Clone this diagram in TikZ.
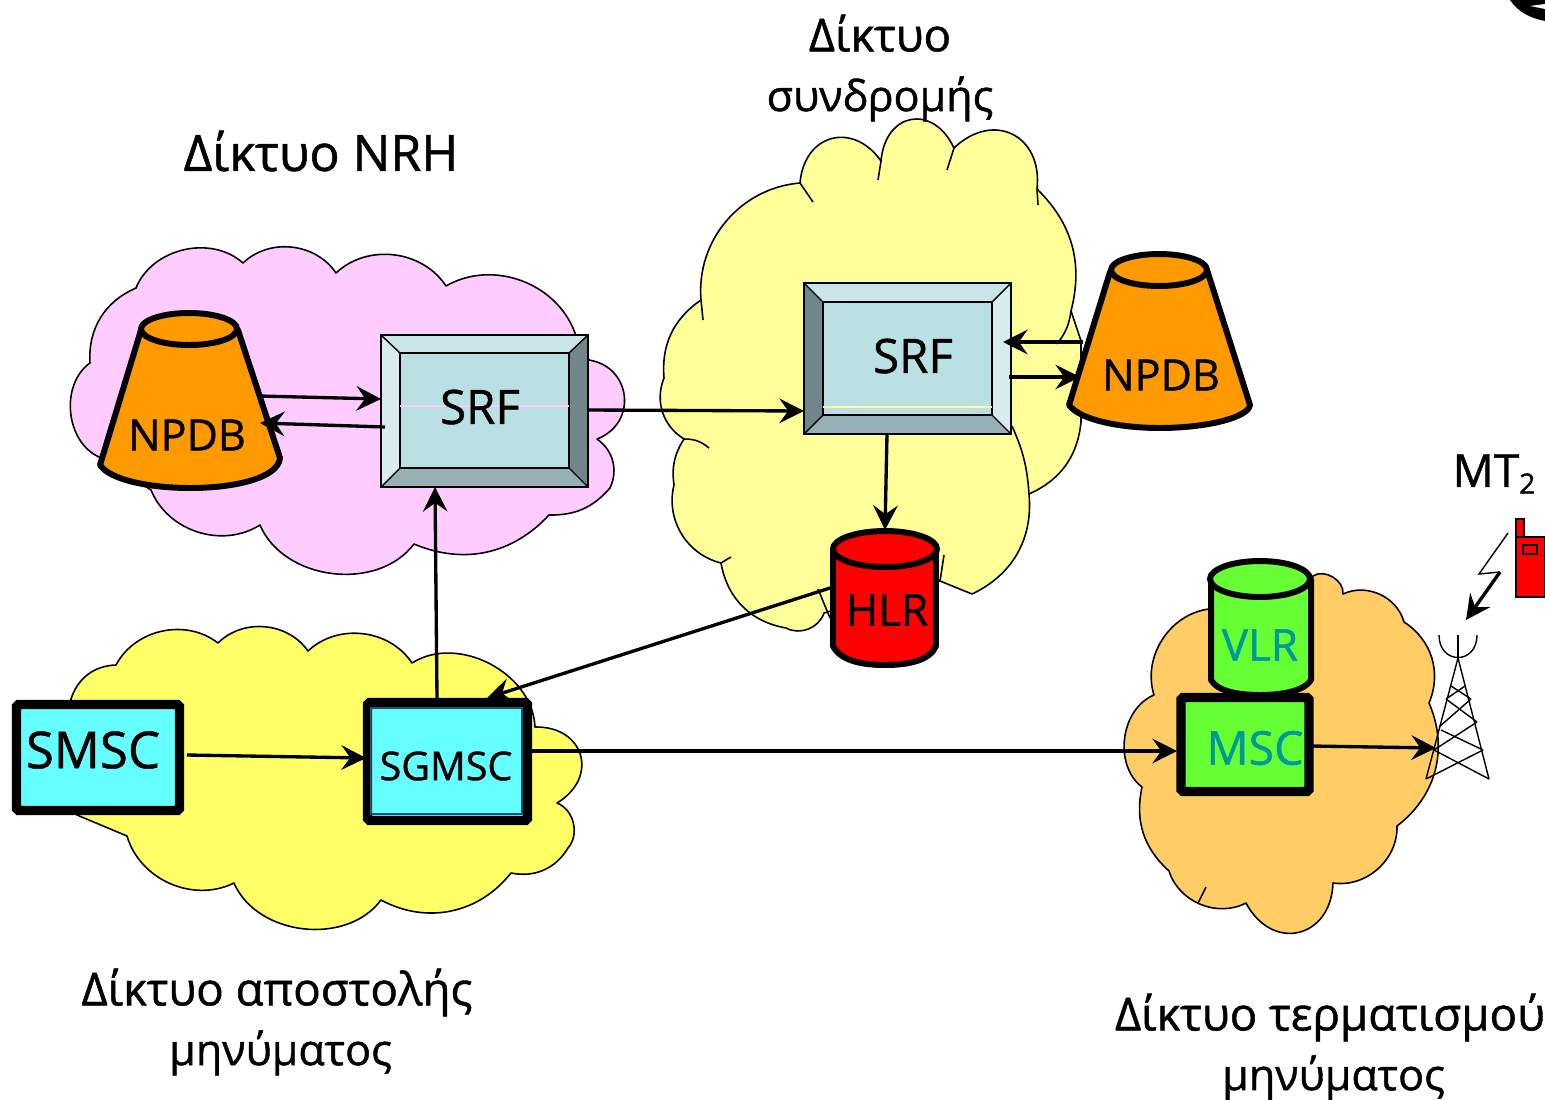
\documentclass[tikz,border=0pt]{standalone}
\usepackage{fontspec}
\setmainfont{Open Sans}
\newfontfamily\handfont{Open Sans}[AutoFakeBold=1.0]
\usepackage{xcolor}
\usetikzlibrary{arrows.meta, calc}

\definecolor{pinkcloud}{HTML}{FFCCFF}
\definecolor{palecloud}{HTML}{FFFF99}
\definecolor{sendcloud}{HTML}{FFFF66}
\definecolor{termcloud}{HTML}{FFCC66}
\definecolor{npdbfill}{HTML}{FF9900}
\definecolor{boxcyan}{HTML}{66FFFF}
\definecolor{msgreen}{HTML}{66FF33}
\definecolor{msctext}{HTML}{009999}
\definecolor{sgmscedge}{HTML}{1F4E79}
\definecolor{srfmid}{HTML}{BAE0E3}
\definecolor{srftop}{HTML}{C9E5E8}
\definecolor{srflight}{HTML}{D8ECEF}
\definecolor{srfdark}{HTML}{70868A}
\definecolor{srfbottom}{HTML}{96B0B5}

\tikzset{
  cloud/.style={draw=black, line width=0.9pt, line join=round},
  bump/.style={bend left=#1},
  bump/.default=50,
  rump/.style={bend right=#1},
  rump/.default=50,
  netlabel/.style={font=\handfont\bfseries\fontsize{26}{34}\selectfont, align=center, inner sep=0pt},
  boxlabel/.style={font=\handfont\bfseries\fontsize{#1}{#1}\selectfont, inner sep=0pt},
  thickbox/.style={draw=black, line width=5.2pt, rounded corners=1pt, inner sep=0pt},
  solid3d/.style={draw=black, line width=3.4pt, line join=round},
  arr/.style={-{Stealth[length=14pt,width=14pt,inset=5pt]}, line width=1.9pt},
}

\begin{document}
\begin{tikzpicture}[x=0.02cm, y=-0.02cm]
    \useasboundingbox (0,0) rectangle (1545,1099);

    % clouds
    \draw[cloud, fill=pinkcloud] (243,263) to[bump] (336,273) to[bump] (446,286) to[bump] (575,333)
      -- (589,360) to[bump=75, looseness=1.4] (597,439) to[bump=40] (610,488) to[bump=25] (549,515) to[bump=35] (414,544)
      to[bump=60] (260,525) to[bump=50] (151,490) -- (99,457) to[bump=60] (90,363) to[bump=35] (136,288)
      to[bump=55] cycle;
    \draw[cloud, fill=sendcloud] (116,665) to[bump=50] (218,643) to[bump=50] (308,651) to[bump=50] (412,663)
      to[bump=60] (535,727) to[bump=75, looseness=1.6] (557,803) to[bump=55] (568,848) to[bump=35] (511,873)
      to[bump=40] (381,900) to[bump=60] (234,883) to[bump=50] (127,836) -- (77,815) -- (71,699)
      to[bump=35] cycle;
    \draw[cloud, fill=palecloud] (701,300) to[bump=45] (800,183) to[bump=70, looseness=1.5] (881,161)
      to[bump=75, looseness=1.7] (954,148) to[bump=70, looseness=1.5] (1037,189) to[bump=30] (1071,311)
      -- (1081,341) -- (1081,422) to[bump=30] (1029,494) to[bump=35] (972,594) -- (940,581) -- (824,613)
      to[bump=50] (786,628) to[bump=35] (721,563) to[bump=45] (674,485) to[bump=20] (684,439)
      to[bump=40] (664,378) to[bump=30] cycle;
    \draw[cloud, fill=termcloud] (1209,609) to[rump=50] (1154,695) to[rump=60] (1142,787) to[rump=30] (1169,871)
      to[rump=50] (1246,903) to[rump=75, looseness=1.6] (1333,883) to[rump=50] (1397,826) to[rump=38] (1429,703)
      to[rump=40] (1404,622) to[rump=50] (1343,594) to[rump=65] (1313,576) -- cycle;

    % cloud seams
    \draw[cloud] (701,300) -- (703,320);
    \draw[cloud] (800,183) -- (813,202);
    \draw[cloud] (881,161) -- (878,180);
    \draw[cloud] (954,148) -- (947,170);
    \draw[cloud] (1037,189) -- (1038,205);
    \draw[cloud] (1071,311) to[bump=15] (1057,344);
    \draw[cloud] (684,439) to[bump=20] (709,448);
    \draw[cloud] (1012,426) to[bump=10] (1029,494);
    \draw[cloud] (721,563) -- (731,557);
    \draw[cloud] (818,589) -- (830,618);
    \draw[cloud] (944,555) -- (940,581);
    \draw[cloud] (1206,887) -- (1198,903);

    % SRF of the NRH network
    \begin{scope}[shift={(381,335)}]
      \fill[srftop] (0,0) rectangle (207,152);
      \fill[srflight] (0,0) -- (19,18) -- (19,133) -- (0,152) -- cycle;
      \fill[srfdark] (207,0) -- (188,18) -- (188,133) -- (207,152) -- cycle;
      \fill[srfbottom] (0,152) -- (19,133) -- (188,133) -- (207,152) -- cycle;
      \draw[black, line width=0.8pt] (0,0) -- (19,18) (207,0) -- (188,18) (0,152) -- (19,133) (207,152) -- (188,133);
      \draw[black, line width=1pt, fill=srfmid] (19,18) rectangle (188,133);
      \draw[pinkcloud, line width=0.6pt] (19,71) -- (188,71);
      \node[draw=black, line width=1pt, minimum width=4.14cm, minimum height=3.04cm, inner sep=0pt] (srfa) at (103.5,76) {};
    \end{scope}
    \node[boxlabel=27] (srfalabel) at (480,407) {SRF};

    % SRF of the subscription network
    \begin{scope}[shift={(804,283)}]
      \fill[srftop] (0,0) rectangle (207,151);
      \fill[srfdark] (0,0) -- (19,19) -- (19,132) -- (0,151) -- cycle;
      \fill[srflight] (207,0) -- (188,19) -- (188,132) -- (207,151) -- cycle;
      \fill[srfbottom] (0,151) -- (19,132) -- (188,132) -- (207,151) -- cycle;
      \draw[black, line width=0.8pt] (0,0) -- (19,19) (207,0) -- (188,19) (0,151) -- (19,132) (207,151) -- (188,132);
      \draw[black, line width=1pt, fill=srfmid] (19,19) rectangle (188,132);
      \draw[palecloud, line width=0.6pt] (19,124) -- (188,124);
      \node[draw=black, line width=1pt, minimum width=4.14cm, minimum height=3.02cm, inner sep=0pt] (srfb) at (103.5,75.5) {};
    \end{scope}
    \node[boxlabel=27] (srfblabel) at (913,356) {SRF};

    % NPDB cones
    \draw[solid3d, fill=npdbfill] (141,330) -- (100,465) .. controls (110,480) and (150,488) .. (190,488)
      .. controls (235,488) and (278,478) .. (280,458) -- (238,330) -- cycle;
    \draw[solid3d, fill=npdbfill] (189,329) ellipse (48 and 16);
    \node[boxlabel=24.5] (npdba) at (187,435) {NPDB};

    \draw[solid3d, fill=npdbfill] (1110,272) -- (1069,405) .. controls (1080,420) and (1120,428) .. (1160,428)
      .. controls (1205,428) and (1248,418) .. (1250,405) -- (1207,270) -- cycle;
    \draw[solid3d, fill=npdbfill] (1159,270) ellipse (48 and 16);
    \node[boxlabel=24.5] (npdbb) at (1161,375) {NPDB};

    % HLR and VLR drums
    \draw[solid3d, fill=red] (833,549) -- (833,646) .. controls (840,660) and (860,665) .. (885,665)
      .. controls (910,665) and (930,660) .. (936,646) -- (936,549) -- cycle;
    \draw[solid3d, fill=red] (885,549) ellipse (52 and 18);
    \node[boxlabel=25] (hlr) at (887,610) {HLR};

    \draw[solid3d, fill=msgreen] (1211,579) -- (1211,680) .. controls (1218,692) and (1240,695) .. (1260,695)
      .. controls (1285,695) and (1305,690) .. (1311,680) -- (1311,579) -- cycle;
    \draw[solid3d, fill=msgreen] (1260,579) ellipse (50 and 18);
    \node[boxlabel=25, text=msctext] (vlr) at (1260,645) {VLR};

    % exchanges
    \node[thickbox, fill=boxcyan, minimum width=3.26cm, minimum height=2.12cm] (smsc) at (98,757.5) {};
    \node[boxlabel=29] (smsclabel) at (93,750) {SMSC};
    \node[thickbox, fill=boxcyan, minimum width=3.2cm, minimum height=2.36cm] (sgmsc) at (447.5,761.5) {};
    \draw[sgmscedge, line width=0.8pt] (371,708) rectangle (522,814);
    \node[boxlabel=22.5] (sgmsclabel) at (446,766) {SGMSC};
    \node[thickbox, fill=msgreen, minimum width=2.56cm, minimum height=1.88cm] (msc) at (1245,744.5) {};
    \node[boxlabel=26.5, text=msctext] (msclabel) at (1255,748) {MSC};

    % tower
    \coordinate (apex) at (1458,658);
    \coordinate (basel) at (1426,779);
    \coordinate (baser) at (1489,779);
    \draw[black, line width=0.8pt] (basel) -- (apex) -- (baser);
    \draw[black, line width=0.8pt] (1458,635) -- (apex);
    \draw[black, line width=0.8pt] (1439,635) .. controls (1439,665) and (1477,665) .. (1477,635);
    \foreach \xa/\ya/\xb/\yb in {1465/686/1446/699, 1451/686/1471/699, 1446/699/1477/722, 1471/699/1439/727,
      1441/730/1483/750, 1477/722/1434/750, 1483/750/1426/779, 1434/750/1489/779} {
      \draw[black, line width=0.8pt] (\xa,\ya) -- (\xb,\yb);
    }

    % phone
    \draw[black, line width=0.6pt, fill=red] (1516,519) rectangle (1524,537);
    \draw[black, line width=0.6pt, fill=red] (1516,537) rectangle (1544.5,597);
    \draw[black, line width=0.6pt] (1523,545) rectangle (1537,554);

    % radio link
    \coordinate (boltend) at (1508,533);
    \coordinate (boltmid) at (1479,574);
    \coordinate (boltstart) at (1500,572);
    \coordinate (bolttip) at (1466,620);
    \draw[black, line width=0.8pt] (boltend) -- (boltmid) -- (boltstart);
    \draw[arr] (boltstart) -- (bolttip);

    % connector ends
    \coordinate (npdbaout) at (259,396);
    \coordinate (npdbain) at (260,423);
    \coordinate (npdbbout) at (1083,342);
    \coordinate (npdbbin) at (1080,377);
    \coordinate (srfain) at (381,399);
    \coordinate (srfaback) at (385,427);
    \coordinate (srfaout) at (588,410);
    \coordinate (srfafoot) at (435,487);
    \coordinate (srfbin) at (804,411);
    \coordinate (srfbreply) at (1003,342);
    \coordinate (srfbask) at (1009,377);
    \coordinate (srfbfoot) at (887,434);
    \coordinate (hlrtop) at (885,530);
    \coordinate (hlrside) at (830,588);
    \coordinate (sgmscroof) at (437,698);
    \coordinate (sgmsctip) at (487,698);
    \coordinate (sgmscin) at (366,758);
    \coordinate (sgmscout) at (532,751);
    \coordinate (smscout) at (187,755);
    \coordinate (mscin) at (1177,751);
    \coordinate (mscout) at (1311,746);
    \coordinate (towerin) at (1436,748);

    % connectors
    \draw[arr] (npdbaout) -- (srfain);
    \draw[arr] (srfaback) -- (npdbain);
    \draw[arr] (srfaout) -- (srfbin);
    \draw[arr] (npdbbout) -- (srfbreply);
    \draw[arr] (srfbask) -- (npdbbin);
    \draw[arr] (srfbfoot) -- (hlrtop);
    \draw[arr] (sgmscroof) -- (srfafoot);
    \draw[arr] (hlrside) -- (sgmsctip);
    \draw[arr] (smscout) -- (sgmscin);
    \draw[arr] (sgmscout) -- (mscin);
    \draw[arr] (mscout) -- (towerin);

    % stray corner
    \fill[black] (1510,0) .. controls (1518,12) and (1530,18) .. (1545,21) -- (1545,0) -- cycle;
    \fill[white] (1530,6) -- (1545,4) -- (1545,9) -- cycle;

    % labels
    \node[netlabel] (labelsub) at (880,68) {Δίκτυο\\{\fontsize{24.5}{34}\selectfont συνδρομής}};
    \node[netlabel, font=\handfont\bfseries\fontsize{28.5}{34}\selectfont] (labelnrh) at (321,151) {Δίκτυο NRH};
    \node[netlabel] (labelsend) at (277,1022) {Δίκτυο αποστολής\\{\fontsize{24.5}{34}\selectfont\hspace*{4pt}μηνύματος}};
    \node[netlabel] (labelterm) at (1330,1047) {Δίκτυο τερματισμού\\{\fontsize{24.5}{34}\selectfont\hspace*{4pt}μηνύματος}};
    \node[boxlabel=26] (labelmt) at (1494,474) {MT\raisebox{-0.15em}{\fontsize{16}{16}\selectfont 2}};
\end{tikzpicture}
\end{document}
